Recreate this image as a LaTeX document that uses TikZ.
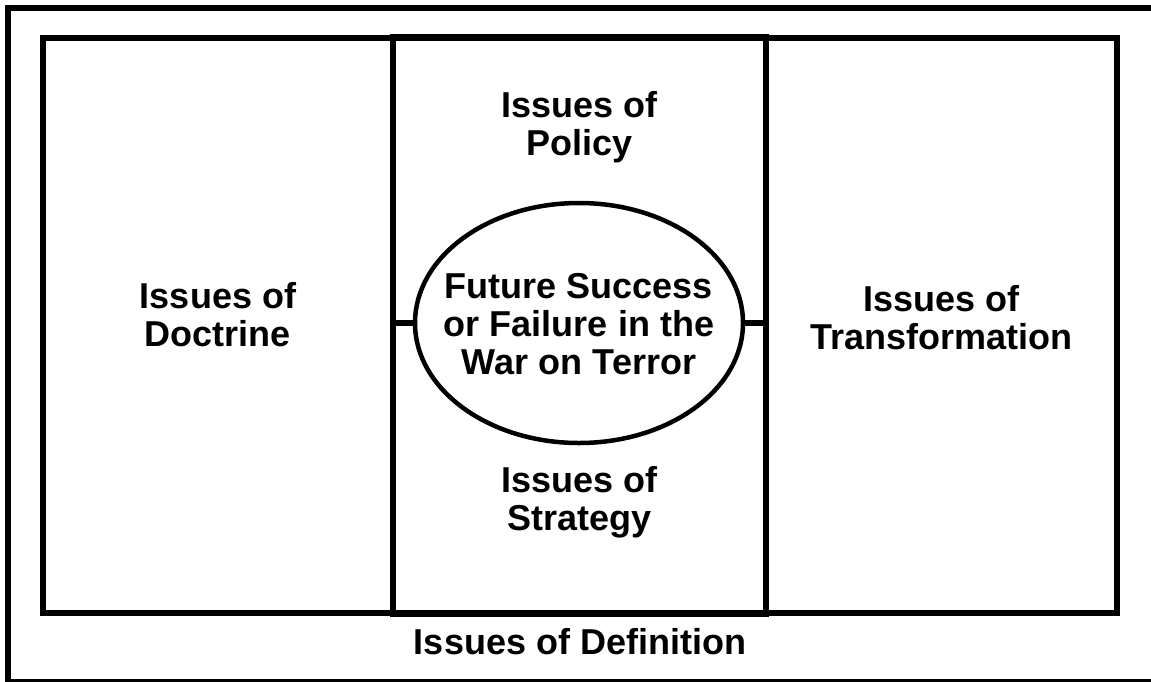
\documentclass[tikz,border=0pt]{standalone}
\usepackage{fontspec}
\setmainfont{Liberation Sans}
\usetikzlibrary{shapes.geometric}
\begin{document}
\begin{tikzpicture}[x=1pt,y=-1pt,
  frame/.style={draw,line width=6pt,inner sep=0pt,outer sep=0pt},
  oval/.style={draw,ellipse,line width=4.5pt,inner sep=0pt,outer sep=0pt},
  link/.style={line width=6.5pt},
  lbl/.style={font=\bfseries\fontsize{36}{38}\selectfont,align=center,inner sep=0pt}]
\useasboundingbox (0,0) rectangle (1151,681);
\node[frame,minimum width=1152pt,minimum height=674pt] (outer) at (584,345) {};
\node[frame,minimum width=1074pt,minimum height=575pt] (inner) at (580,325.5) {};
\node[frame,minimum width=373pt,minimum height=577pt] (mid) at (579.5,325.5) {};
\node[oval,minimum width=328pt,minimum height=240pt] (ell) at (579,323) {};
\draw[link] (mid.west |- ell.west) -- (ell.west);
\draw[link] (ell.east) -- (mid.east |- ell.east);
\node[lbl] (ellt) at (579,324) {Future Success\\or Failure in the\\War on Terror};
\node[lbl] (policy) at (579.5,127) {Issues of\\Policy};
\node[lbl] (strategy) at (579.5,502) {Issues of\\Strategy};
\node[lbl] (doctrine) at (218,315) {Issues of\\Doctrine};
\node[lbl] (transf) at (941.5,318) {Issues of\\Transformation};
\node[lbl] (defin) at (580,642) {Issues of Definition};
\end{tikzpicture}
\end{document}
